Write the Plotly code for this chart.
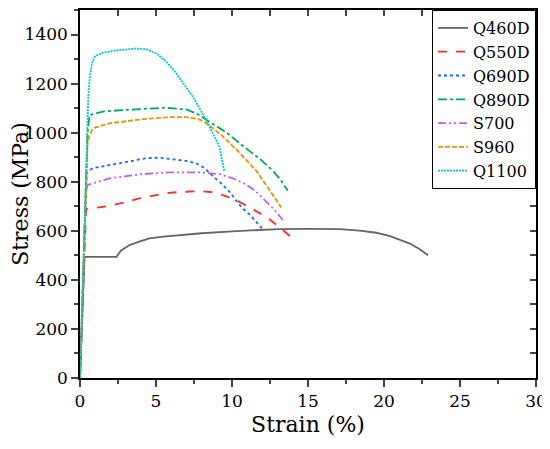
import plotly.graph_objects as go

# stress-strain curves (strain %, stress MPa)
q460d_x = [0, 0.25, 0.3, 1.0, 2.0, 2.4, 2.7, 3.26, 4.0, 4.57, 5.5, 6.55, 8.0, 10.0, 13.1, 15.0, 17.07, 18.4, 19.5, 20.4, 21.2, 21.7, 22.3, 22.9]
q460d_y = [0, 490, 494, 494, 494, 494, 520, 542, 558, 569, 576, 582, 590, 598, 607, 608, 607, 601, 592, 578, 560, 548, 527, 500]

q550d_x = [0, 0.4, 0.74, 1.28, 2.0, 3.04, 3.9, 5.0, 5.89, 6.55, 7.86, 8.74, 9.18, 10.2, 11.3, 12.25, 13.1, 13.6, 14.18]
q550d_y = [0, 688, 691, 695, 702, 718, 732, 745, 755, 758, 762, 757, 750, 728, 691, 657, 616, 590, 559]

q690d_x = [0, 0.45, 0.84, 2.27, 3.5, 4.36, 5.23, 6.33, 7.09, 7.64, 8.2, 8.74, 9.3, 9.84, 10.6, 11.2, 12.07]
q690d_y = [0, 840, 855, 872, 888, 896, 898, 891, 884, 875, 855, 823, 793, 759, 698, 664, 603]

q890d_x = [0, 0.5, 0.63, 1.5, 3.04, 4.5, 5.67, 7.0, 7.86, 8.5, 9.18, 9.6, 10.5, 11.85, 12.6, 13.13, 13.67]
q890d_y = [0, 1000, 1072, 1086, 1093, 1098, 1102, 1095, 1072, 1045, 1020, 1002, 957, 892, 850, 814, 763]

s700_x = [0, 0.38, 0.51, 1.94, 4.13, 5.89, 6.76, 7.86, 9.18, 10.0, 10.8, 11.5, 12.1, 12.8, 13.34]
s700_y = [0, 760, 787, 814, 831, 838, 838, 838, 831, 815, 793, 765, 728, 685, 644]

s960_x = [0, 0.5, 0.63, 0.84, 1.94, 3.0, 4.13, 5.89, 7.0, 7.64, 8.0, 8.6, 9.4, 10.5, 11.6, 12.47, 13.24]
s960_y = [0, 960, 990, 1018, 1038, 1047, 1055, 1063, 1063, 1057, 1050, 1025, 985, 918, 845, 766, 695]

q1100_x = [0, 0.5, 0.55, 0.65, 0.8, 1.0, 1.5, 2.6, 3.7, 4.36, 5.0, 5.67, 6.33, 7.42, 8.3, 9.17, 9.5]
q1100_y = [0, 1000, 1150, 1230, 1285, 1312, 1326, 1337, 1343, 1340, 1324, 1290, 1242, 1147, 1052, 943, 841]

series = [
    ("Q460D", q460d_x, q460d_y, "#666666", "solid"),
    ("Q550D", q550d_x, q550d_y, "#FF2A2A", "dash"),
    ("Q690D", q690d_x, q690d_y, "#1A6BEB", "dot"),
    ("Q890D", q890d_x, q890d_y, "#00A65A", "dashdot"),
    ("S700", s700_x, s700_y, "#BF5FEA", "8px,3px,2px,3px,2px,3px"),
    ("S960", s960_x, s960_y, "#E69500", "5px,2px"),
    ("Q1100", q1100_x, q1100_y, "#00C8C8", "2px,1px"),
]

FONT = "DejaVu Serif"

fig = go.Figure()
for name, xs, ys, col, dash in series:
    fig.add_trace(go.Scatter(x=xs, y=ys, name=name, mode="lines",
                             line=dict(color=col, width=1.8, dash=dash)))

# empty trace so the mirrored top/right axes get drawn
fig.add_trace(go.Scatter(x=[], y=[], xaxis="x2", yaxis="y2", showlegend=False))

AX = dict(showline=True, linecolor="black", linewidth=1.5, showgrid=False,
          zeroline=False, automargin=False, tickwidth=1.5)

# page body keeps its 8px default margin, so the figure is shrunk by that much
fig.update_layout(
    width=542, height=441,
    plot_bgcolor="white", paper_bgcolor="white",
    font=dict(family=FONT, size=18, color="black"),
    margin=dict(l=72, r=13.5, t=2, b=71),
    xaxis=dict(range=[0, 30], dtick=5, ticks="outside", ticklen=7,
               tickfont=dict(size=17),
               minor=dict(dtick=2.5, ticklen=4, tickwidth=1.5),
               title=dict(text="Strain (%)", standoff=6), **AX),
    yaxis=dict(range=[0, 1500], dtick=200, ticks="outside", ticklen=7,
               tickfont=dict(size=17),
               minor=dict(dtick=100, ticklen=4, tickwidth=1.5),
               title=dict(text="Stress (MPa)", standoff=8), **AX),
    xaxis2=dict(range=[0, 30], overlaying="x", side="top", dtick=2.5, ticks="inside",
                ticklen=6, showticklabels=False, **AX),
    yaxis2=dict(range=[0, 1500], overlaying="y", side="right", dtick=100, ticks="inside",
                ticklen=6, showticklabels=False, **AX),
    legend=dict(x=1, y=1, xanchor="right", yanchor="top", bgcolor="white",
                bordercolor="black", borderwidth=1, font=dict(size=16),
                tracegroupgap=0),
)

fig.write_html("out.html")
